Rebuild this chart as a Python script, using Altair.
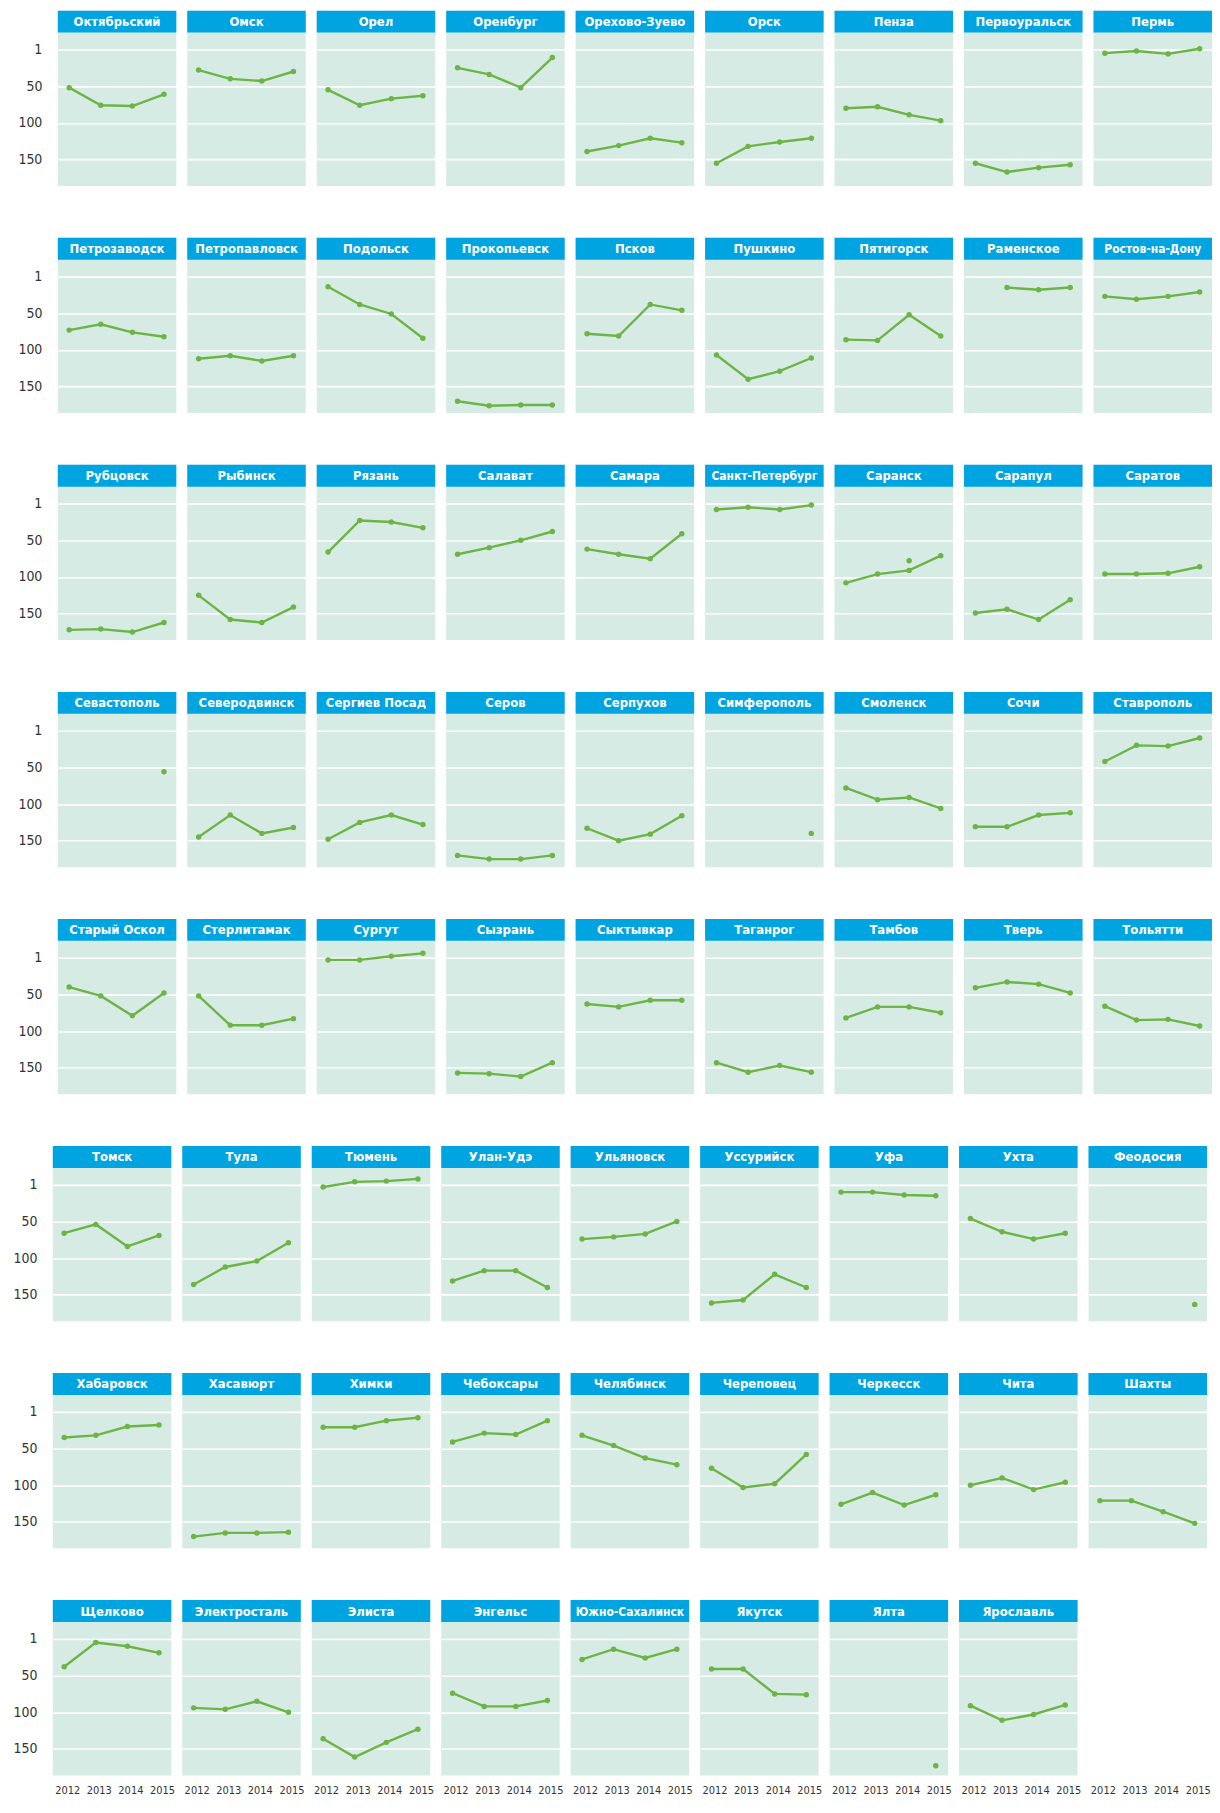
import altair as alt
import pandas as pd

YEARS = [2012, 2013, 2014, 2015]

CITIES = [
    "Октябрьский", "Омск", "Орел", "Оренбург", "Орехово-Зуево", "Орск", "Пенза", "Первоуральск", "Пермь",
    "Петрозаводск", "Петропавловск", "Подольск", "Прокопьевск", "Псков", "Пушкино", "Пятигорск", "Раменское", "Ростов-на-Дону",
    "Рубцовск", "Рыбинск", "Рязань", "Салават", "Самара", "Санкт-Петербург", "Саранск", "Сарапул", "Саратов",
    "Севастополь", "Северодвинск", "Сергиев Посад", "Серов", "Серпухов", "Симферополь", "Смоленск", "Сочи", "Ставрополь",
    "Старый Оскол", "Стерлитамак", "Сургут", "Сызрань", "Сыктывкар", "Таганрог", "Тамбов", "Тверь", "Тольятти",
    "Томск", "Тула", "Тюмень", "Улан-Удэ", "Ульяновск", "Уссурийск", "Уфа", "Ухта", "Феодосия",
    "Хабаровск", "Хасавюрт", "Химки", "Чебоксары", "Челябинск", "Череповец", "Черкесск", "Чита", "Шахты",
    "Щелково", "Электросталь", "Элиста", "Энгельс", "Южно-Сахалинск", "Якутск", "Ялта", "Ярославль",
]

RANK_2012 = [
    52, 28, 55, 25, 139, 155, 80, 155, 5,
    73, 112, 14, 170, 78, 107, 86, None, 27,
    172, 125, 66, 69, 62, 8, 108, 149, 96,
    None, 145, 148, 170, 133, None, 78, 131, 42,
    40, 52, 3, 157, 63, 143, 82, 41, 66,
    66, 136, 3, 131, 74, 161, 10, 46, None,
    35, 170, 21, 41, 32, 77, 126, 100, 121,
    38, 94, 136, 74, 28, 41, None, 91,
]
RANK_2013 = [
    76, 40, 76, 34, 131, 132, 78, 167, 2,
    65, 108, 38, 176, 81, 140, 87, 15, 31,
    171, 158, 23, 60, 69, 5, 96, 144, 96,
    None, 115, 125, 175, 150, None, 94, 131, 20,
    52, 92, 3, 158, 67, 156, 67, 33, 85,
    54, 112, -4, 117, 71, 157, 10, 64, None,
    32, 165, 21, 29, 46, 103, 110, 90, 121,
    5, 96, 161, 92, 14, 41, None, 111,
]
RANK_2014 = [
    77, 43, 67, 52, 121, 126, 89, 161, 6,
    76, 115, 51, 175, 38, 129, 52, 18, 27,
    175, 162, 25, 50, 75, 8, 91, 158, 95,
    None, 140, 115, 175, 141, None, 91, 115, 21,
    79, 92, -2, 162, 58, 147, 67, 36, 84,
    84, 104, -5, 117, 67, 122, 14, 74, None,
    20, 165, 12, 31, 63, 98, 127, 106, 136,
    10, 85, 141, 92, 26, 75, None, 103,
]
RANK_2015 = [
    61, 30, 63, 11, 127, 121, 97, 157, -1,
    82, 108, 84, 175, 46, 111, 81, 15, 21,
    162, 141, 33, 38, 41, 2, 71, 131, 86,
    56, 132, 128, 170, 116, 140, 106, 112, 10,
    48, 83, -6, 143, 58, 156, 75, 48, 93,
    69, 79, -8, 140, 50, 140, 15, 66, 163,
    18, 164, 8, 12, 72, 58, 113, 96, 152,
    19, 100, 123, 84, 14, 76, 173, 90,
]

# separate single dot shown in the Саранск panel
EXTRA_CITY = ["Саранск"]
EXTRA_YEAR = [2014]
EXTRA_RANK = [78]

GREEN = "#6cb545"
BLUE = "#00a4e1"
PANEL = "#d7ebe5"
FONT = "DejaVu Sans Condensed, DejaVu Sans, sans-serif"

rows = []
for i, c in enumerate(CITIES):
    for yr, col in zip(YEARS, [RANK_2012, RANK_2013, RANK_2014, RANK_2015]):
        rows.append({"city": c, "year": yr, "rank": col[i], "series": "main"})
for c, yr, r in zip(EXTRA_CITY, EXTRA_YEAR, EXTRA_RANK):
    rows.append({"city": c, "year": yr, "rank": r, "series": "extra"})
df = pd.DataFrame(rows)

W = 119
HDR = 22          # blue header strip height (px)
PLOT_H = 154      # green plot area height (px)
CELL_H = PLOT_H + HDR
ROW_GAP = 52
Y_LO, Y_HI = -23, 186
Y_TOP = Y_LO - HDR * (Y_HI - Y_LO) / PLOT_H   # extend domain so header strip sits inside the cell


def build(cities, show_x, extent):
    part = df[df["city"].isin(cities)]
    if show_x:
        x_axis = alt.Axis(values=YEARS, format="d", title=None, grid=False, ticks=False, domain=False,
                          labelPadding=9, labelOffset=3, labelFontSize=11, labelColor="#333333",
                          labelFont=FONT, labelOverlap=False)
    else:
        x_axis = None
    x_enc = alt.X("year:Q", scale=alt.Scale(domain=[2011.64, 2015.39], nice=False, zero=False),
                  axis=x_axis)
    y_enc = alt.Y(
        "rank:Q",
        scale=alt.Scale(domain=[Y_TOP, Y_HI], reverse=True, nice=False, zero=False),
        axis=alt.Axis(values=[0, 50, 100, 150], labelExpr="datum.value == 0 ? '1' : datum.label",
                      title=None, grid=True, gridColor="white", gridWidth=1.6, ticks=False, domain=False,
                      labelPadding=16, labelFontSize=14, labelColor="#333333", labelFont=FONT,
                      minExtent=extent, maxExtent=extent),
    )
    line = alt.Chart().mark_line(color=GREEN, strokeWidth=2.4).encode(x=x_enc, y=y_enc, detail="series:N")
    pts = alt.Chart().mark_circle(color=GREEN, size=30, opacity=1).encode(x=x_enc, y=y_enc)
    hdr = (
        alt.Chart()
        .transform_filter("datum.year == 2012 && datum.series == 'main'")
        .mark_rect(color=BLUE)
        .encode(x=alt.value(0), x2=alt.value(W), y=alt.value(0), y2=alt.value(HDR))
    )
    txt = (
        alt.Chart()
        .transform_filter("datum.year == 2012 && datum.series == 'main'")
        .mark_text(color="white", fontWeight="bold", font=FONT, align="center",
                   baseline="middle", limit=W - 2)
        .encode(
            x=alt.value(W / 2), y=alt.value(HDR / 2 + 0.5), text="city:N",
            size=alt.condition("length(datum.city) >= 14", alt.value(12), alt.value(13)),
        )
    )
    layer = alt.layer(hdr, txt, line, pts, data=part).properties(width=W, height=CELL_H)
    return layer.facet(
        facet=alt.Facet("city:N", sort=cities, title=None,
                        header=alt.Header(labels=False, labelExpr="''", labelFontSize=0,
                                          labelPadding=0, titlePadding=0)),
        columns=9,
        spacing={"row": ROW_GAP, "column": 11},
    )


top = build(CITIES[:45], False, 46)
bottom = build(CITIES[45:], True, 41)

# invisible 1px spacer: shifts the first five rows 5px to the right, as in the original
spacer = (
    alt.Chart(pd.DataFrame({"v": [0]}))
    .mark_point(opacity=0)
    .encode(x=alt.value(0), y=alt.value(0))
    .properties(width=1, height=1, view=alt.ViewBackground(fillOpacity=0, strokeWidth=0))
)

chart = (
    alt.vconcat(alt.hconcat(spacer, top, spacing=-44), bottom, spacing=ROW_GAP)
    .properties(padding={"left": 4, "top": -4, "right": 0, "bottom": 0}, background="white")
    .configure_view(fill=PANEL, strokeWidth=0)
    .configure_header(labelFontSize=0, labelPadding=0, titlePadding=0)
)

chart.save("out.html", embed_options={"renderer": "svg", "actions": False})
